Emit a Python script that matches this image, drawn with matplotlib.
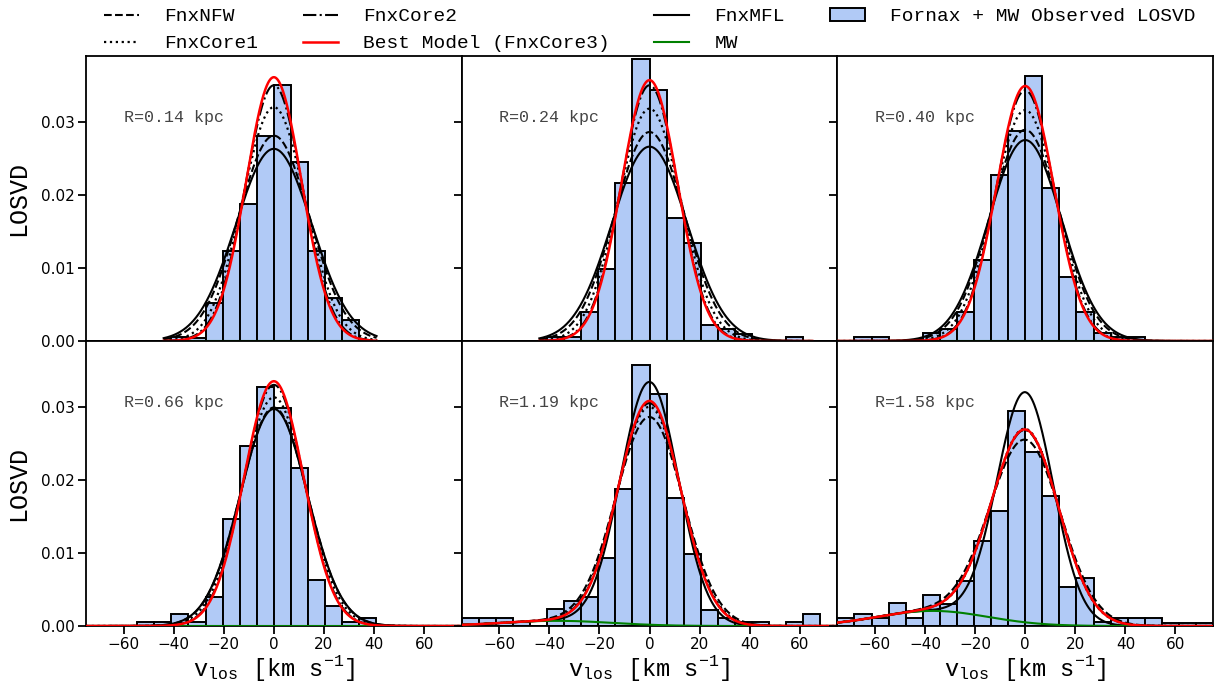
import numpy as np
import matplotlib.pyplot as plt
from matplotlib.lines import Line2D
from matplotlib.patches import Patch

plt.rcParams['font.family'] = ['DejaVu Sans']
plt.rcParams['mathtext.fontset'] = 'custom'
plt.rcParams['mathtext.rm'] = 'Liberation Mono'
MONO = 'Liberation Mono'

# projected radius of each bin (kpc)
radii = [0.14, 0.24, 0.40, 0.66, 1.19, 1.58]

# velocity bins: 22 bins between -75 and 75 km/s
bin_edges = np.linspace(-75, 75, 23)

# observed LOSVD (normalised histogram heights), one list per radial bin
hist_r014 = [0, 0, 0, 0, 0, 0.0006, 0.0004, 0.0052, 0.0123, 0.0187, 0.0280,
             0.0351, 0.0245, 0.0123, 0.0059, 0.0029, 0, 0, 0, 0, 0, 0]
hist_r024 = [0, 0, 0, 0, 0, 0.0006, 0.0006, 0.0040, 0.0098, 0.0216, 0.0386,
             0.0344, 0.0169, 0.0134, 0.0022, 0.0017, 0.0010, 0, 0, 0.0006, 0, 0]
hist_r040 = [0, 0.0006, 0.0006, 0, 0, 0.0011, 0.0017, 0.0040, 0.0111, 0.0227, 0.0287,
             0.0363, 0.0210, 0.0087, 0.0040, 0.0011, 0.0006, 0.0006, 0, 0, 0, 0]
hist_r066 = [0, 0, 0, 0.0006, 0.0006, 0.0017, 0.0006, 0.0040, 0.0146, 0.0246, 0.0327,
             0.0298, 0.0216, 0.0063, 0.0028, 0.0005, 0.0011, 0, 0, 0, 0, 0]
hist_r119 = [0.0011, 0.0011, 0.0011, 0.0005, 0, 0.0023, 0.0034, 0.0040, 0.0093, 0.0187, 0.0357,
             0.0317, 0.0175, 0.0099, 0.0022, 0.0011, 0.0006, 0.0006, 0, 0.0006, 0.0017, 0]
hist_r158 = [0.0011, 0.0017, 0.0011, 0.0031, 0.0011, 0.0042, 0.0030, 0.0061, 0.0116, 0.0157, 0.0294,
             0.0238, 0.0178, 0.0054, 0.0066, 0.0006, 0.0011, 0.0011, 0.0011, 0.0004, 0.0004, 0.0004]
observed = [hist_r014, hist_r024, hist_r040, hist_r066, hist_r119, hist_r158]

# peak height of each model LOSVD at v=0
peak_nfw = [0.0281, 0.0286, 0.0289, 0.0299, 0.0286, 0.0255]
peak_core1 = [0.0320, 0.0318, 0.0316, 0.0313, 0.0300, 0.0270]
peak_core2 = [0.0350, 0.0350, 0.0343, 0.0330, 0.0305, 0.0268]
peak_core3 = [0.0361, 0.0357, 0.0349, 0.0335, 0.0308, 0.0269]
peak_mfl = [0.0263, 0.0266, 0.0275, 0.0297, 0.0334, 0.0320]

# Milky Way foreground: fraction, mean velocity, dispersion
mw_frac = [0.0, 0.0, 0.0, 0.0, 0.039, 0.114]
mw_mean = -37.0
mw_sigma = 22.0

# velocity range over which the models are evaluated
v_lo = [-44, -44, -75, -75, -75, -75]
v_hi = [41, 65, 75, 75, 75, 75]


def gauss(v, mu, sig):
    return np.exp(-0.5 * ((v - mu) / sig) ** 2) / (np.sqrt(2 * np.pi) * sig)


def model_losvd(v, peak, f_mw):
    # Fornax Gaussian (dispersion set by the peak) plus MW foreground
    mw0 = f_mw * gauss(0.0, mw_mean, mw_sigma)
    sig = (1 - f_mw) / (np.sqrt(2 * np.pi) * (peak - mw0))
    return (1 - f_mw) * gauss(v, 0.0, sig) + f_mw * gauss(v, mw_mean, mw_sigma)


fig, axes = plt.subplots(2, 3, figsize=(12.15, 6.84), dpi=100, sharex=True, sharey=True)
fig.subplots_adjust(left=0.0708, right=0.9984, top=0.9181, bottom=0.0848, wspace=0, hspace=0)

bar_color = '#b1caf6'
width = bin_edges[1] - bin_edges[0]

for i, ax in enumerate(axes.flat):
    ax.bar(bin_edges[:-1], observed[i], width=width, align='edge',
           facecolor=bar_color, edgecolor='black', linewidth=1.4, zorder=1)

    v = np.linspace(v_lo[i], v_hi[i], 600)
    f = mw_frac[i]
    ax.plot(v, model_losvd(v, peak_nfw[i], f), color='black', ls='--', lw=1.5, zorder=3)
    ax.plot(v, model_losvd(v, peak_core1[i], f), color='black', ls=':', lw=1.6, zorder=3)
    ax.plot(v, model_losvd(v, peak_core2[i], f), color='black', ls='-.', lw=1.5, zorder=3)
    ax.plot(v, model_losvd(v, peak_mfl[i], f), color='black', ls='-', lw=1.5, zorder=3)
    ax.plot(v, f * gauss(v, mw_mean, mw_sigma), color='green', lw=1.5, zorder=4)
    ax.plot(v, model_losvd(v, peak_core3[i], f), color='red', lw=1.8, zorder=5)

    ax.text(0.10, 0.785, 'R=%.2f kpc' % radii[i], transform=ax.transAxes,
            va='center', ha='left', fontsize=12, family=MONO, color='#444444')

    ax.set_xlim(-75, 75)
    ax.set_ylim(0, 0.039)
    ax.set_xticks([-60, -40, -20, 0, 20, 40, 60])
    ax.set_yticks([0.0, 0.01, 0.02, 0.03])
    ax.tick_params(direction='out', length=5.5, width=1.3, labelsize=11, pad=2.5)
    for s in ax.spines.values():
        s.set_linewidth(1.3)

axes[0, 0].set_yticklabels(['0.00', '0.01', '0.02', '0.03'])
for ax in axes[:, 0]:
    ax.set_ylabel('LOSVD', family=MONO, fontsize=18, labelpad=8)
for ax in axes[1, :]:
    ax.set_xlabel(r'$\mathrm{v_{los}}$ [km s$^{\mathrm{-1}}$]', family=MONO,
                  fontsize=17, labelpad=1)

handles = [
    Line2D([], [], color='black', ls='--', lw=1.5, label='FnxNFW'),
    Line2D([], [], color='black', ls=':', lw=1.6, label='FnxCore1'),
    Line2D([], [], color='black', ls='-.', lw=1.5, label='FnxCore2'),
    Line2D([], [], color='red', lw=1.8, label='Best Model (FnxCore3)'),
    Line2D([], [], color='black', lw=1.5, label='FnxMFL'),
    Line2D([], [], color='green', lw=1.5, label='MW'),
    Patch(facecolor=bar_color, edgecolor='black', linewidth=1.4, label='Fornax + MW Observed LOSVD'),
]
fig.legend(handles=handles, loc='upper center', bbox_to_anchor=(0.5346, 1.0), ncol=4,
           frameon=False, prop={'family': MONO, 'size': 14}, handlelength=1.8,
           handletextpad=1.3, columnspacing=2.3, labelspacing=0.48, borderaxespad=0)

fig.savefig('out.png', dpi=100)
